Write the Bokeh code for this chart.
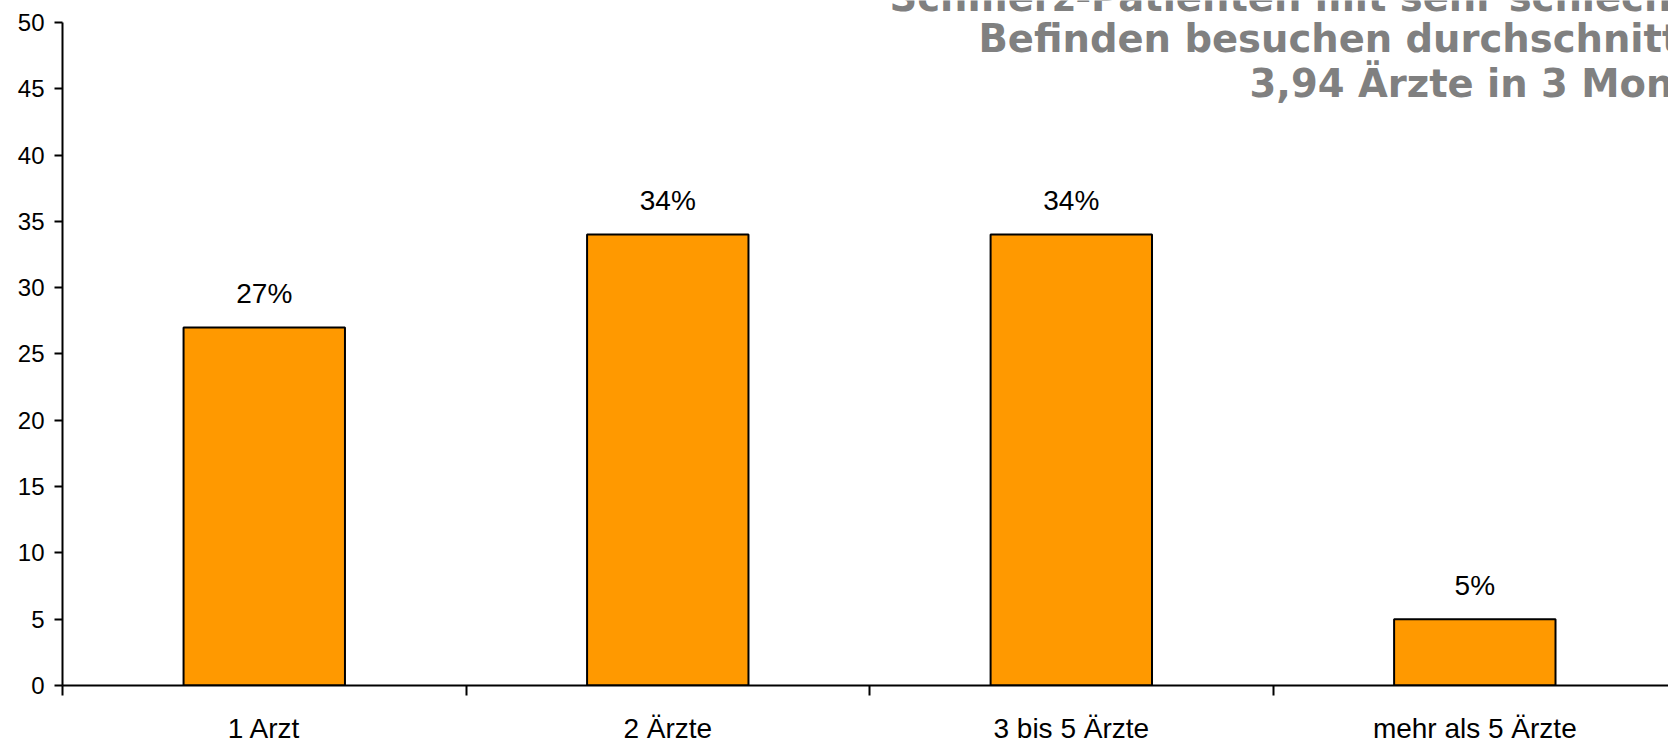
from bokeh.plotting import figure
from bokeh.models import ColumnDataSource, Range1d, FixedTicker, Label
from bokeh.core.properties import value
from bokeh.embed import file_html
from bokeh.resources import INLINE

# ---- data ----
categories = ["1 Arzt", "2 Ärzte", "3 bis 5 Ärzte", "mehr als 5 Ärzte"]
values = [27, 34, 34, 5]
value_labels = ["27%", "34%", "34%", "5%"]
y_ticks = [0, 5, 10, 15, 20, 25, 30, 35, 40, 45, 50]
title_lines = [
    "Schmerz-Patienten mit sehr schlechtem",
    "Befinden besuchen durchschnittlich",
    "3,94 Ärzte in 3 Monaten",
]

positions = [i + 0.5 for i in range(len(categories))]
boundaries = list(range(len(categories) + 1))

src = ColumnDataSource(dict(x=positions, top=values, lab=value_labels))

# frame spans the whole upper area; the y axis line itself stops at 50
p = figure(width=1668, height=746, output_backend="svg", toolbar_location=None,
           x_range=Range1d(0, 3.98), y_range=Range1d(0, 51.654),
           min_border_left=62, min_border_right=0, min_border_top=0,
           min_border_bottom=59)
p.outline_line_color = None
p.background_fill_color = "white"
p.border_fill_color = "white"
p.xgrid.visible = False
p.ygrid.visible = False

p.vbar(x="x", top="top", width=0.4, bottom=0, source=src,
       fill_color="#FF9900", line_color="black", line_width=2)

p.text(x="x", y="top", text="lab", source=src, text_align="center",
       text_baseline="middle", y_offset=-34,
       text_font=value("Liberation Sans"), text_font_size="28px",
       text_color="black")

# x axis
xa = p.xaxis[0]
xa.ticker = FixedTicker(ticks=positions, minor_ticks=boundaries)
xa.major_label_overrides = {pos: cat for pos, cat in zip(positions, categories)}
xa.major_tick_out = 0
xa.major_tick_in = 0
xa.minor_tick_out = 10
xa.minor_tick_in = 0
xa.minor_tick_line_color = "black"
xa.minor_tick_line_width = 2
xa.axis_line_color = "black"
xa.axis_line_width = 2
xa.major_label_standoff = 17
xa.major_label_text_font = "Liberation Sans"
xa.major_label_text_font_size = "28px"
xa.major_label_text_color = "black"

# y axis
ya = p.yaxis[0]
ya.ticker = FixedTicker(ticks=y_ticks, minor_ticks=[])
ya.bounds = (y_ticks[0], y_ticks[-1])
ya.major_tick_out = 8
ya.major_tick_in = 0
ya.major_tick_line_color = "black"
ya.major_tick_line_width = 2
ya.axis_line_color = "black"
ya.axis_line_width = 2
ya.major_label_standoff = 10
ya.major_label_text_font = "Liberation Sans"
ya.major_label_text_font_size = "24px"
ya.major_label_text_color = "black"

# heading (partly outside the visible page, as in the original)
title_pos = [(2.0496, 51.88), (2.2701, 48.77), (2.9418, 45.38)]
for (tx, ty), line in zip(title_pos, title_lines):
    p.add_layout(Label(x=tx, y=ty, text=line, text_align="left",
                       text_baseline="middle", text_font="DejaVu Sans",
                       text_font_style="bold", text_font_size="38.5px",
                       text_color="#808080"))

open("out.html", "w").write(file_html(p, INLINE))
